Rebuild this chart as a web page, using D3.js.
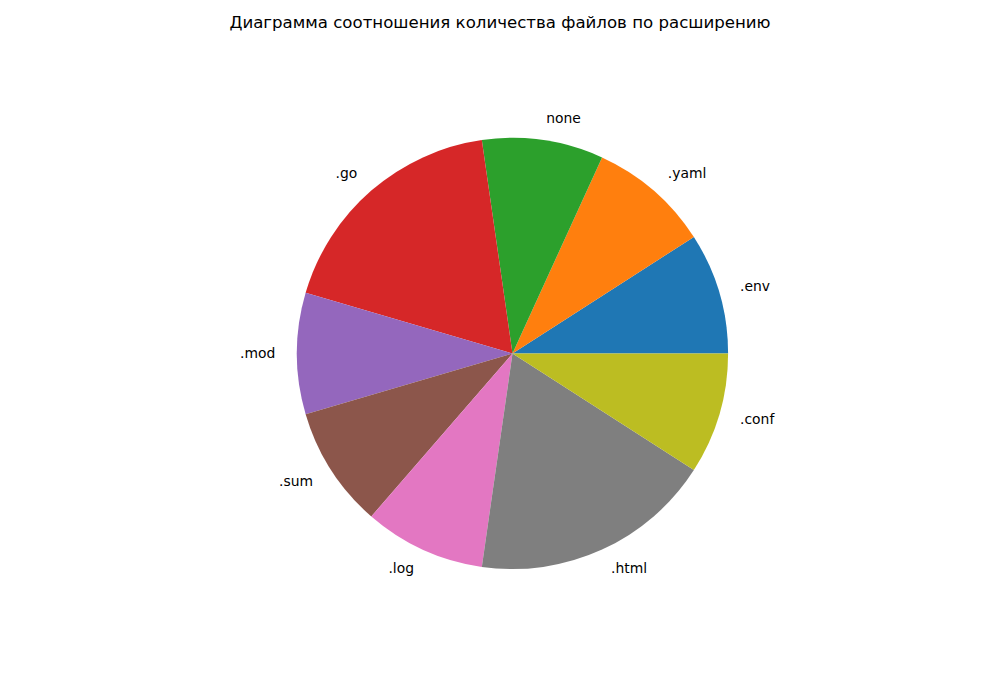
<!DOCTYPE html>
<html>
<head>
<meta charset="utf-8">
<script src="https://cdn.jsdelivr.net/npm/d3@7"></script>
<style>
  body { margin: 0; background: #fff; }
  svg { display: block; font-family: "DejaVu Sans", sans-serif; }
</style>
</head>
<body>
<svg width="1000" height="700"></svg>
<script>
const labels = [".env", ".yaml", "none", ".go", ".mod", ".sum", ".log", ".html", ".conf"];
const counts = [1, 1, 1, 2, 1, 1, 1, 2, 1];
const colors = ["#1f77b4", "#ff7f0e", "#2ca02c", "#d62728", "#9467bd", "#8c564b", "#e377c2", "#7f7f7f", "#bcbd22"];
const title = "Диаграмма соотношения количества файлов по расширению";

const svg = d3.select("svg");
const width = +svg.attr("width");
const height = +svg.attr("height");

const cx = 512.5;
const cy = 353.5;
const radius = 215.6;

const data = labels.map((l, i) => ({ label: l, value: counts[i], color: colors[i] }));

// counter-clockwise from 3 o'clock, like matplotlib
const pie = d3.pie()
  .sort(null)
  .value((d) => d.value)
  .startAngle(Math.PI / 2)
  .endAngle(Math.PI / 2 - 2 * Math.PI);

const arc = d3.arc().innerRadius(0).outerRadius(radius);

const g = svg.append("g").attr("transform", `translate(${cx}, ${cy})`);

const slices = pie(data);

g.selectAll("path")
  .data(slices)
  .join("path")
  .attr("d", arc)
  .attr("fill", (d) => d.data.color);

g.selectAll("text")
  .data(slices)
  .join("text")
  .attr("x", (d) => 1.1 * radius * Math.sin((d.startAngle + d.endAngle) / 2))
  .attr("y", (d) => -1.1 * radius * Math.cos((d.startAngle + d.endAngle) / 2) - 1)
  .attr("text-anchor", (d) => Math.sin((d.startAngle + d.endAngle) / 2) > 0 ? "start" : "end")
  .attr("dominant-baseline", "central")
  .attr("font-size", "13.9px")
  .attr("fill", "#000")
  .text((d) => d.data.label);

svg.append("text")
  .attr("x", width / 2)
  .attr("y", 22)
  .attr("text-anchor", "middle")
  .attr("dominant-baseline", "central")
  .attr("font-size", "16.6px")
  .attr("fill", "#000")
  .text(title);
</script>
</body>
</html>
